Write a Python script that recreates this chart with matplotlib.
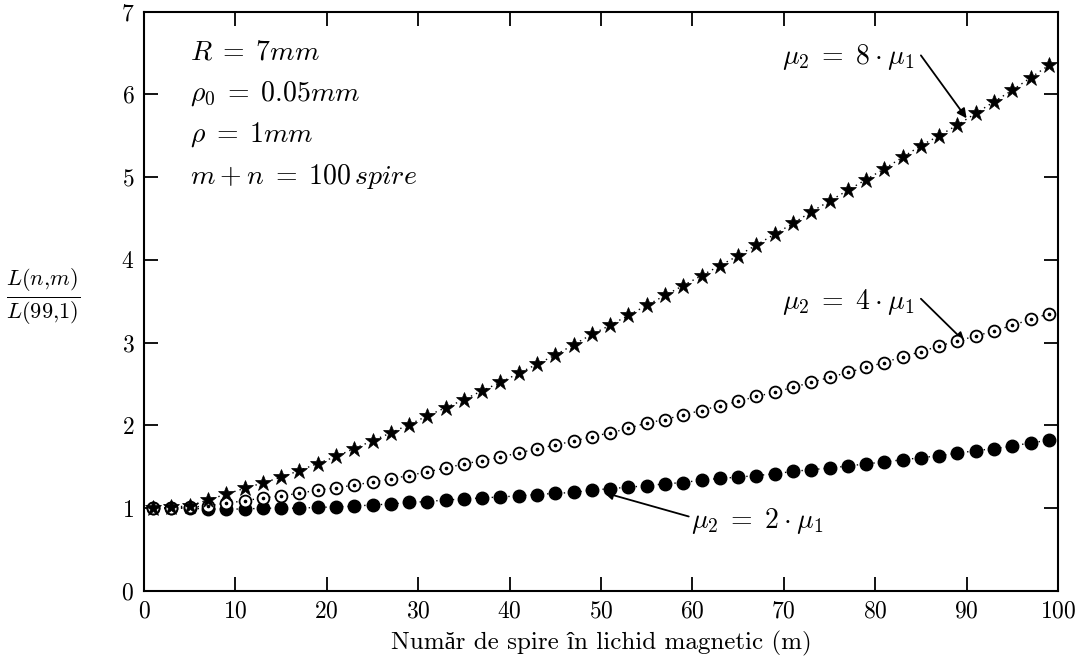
import matplotlib
matplotlib.use("Agg")
import matplotlib.pyplot as plt
import numpy as np

plt.rcParams['mathtext.fontset'] = 'cm'
plt.rcParams['font.family'] = ['cmr10', 'Liberation Serif', 'DejaVu Serif']
plt.rcParams['axes.formatter.use_mathtext'] = True

# number of turns in magnetic liquid (m)
m_turns = list(range(1, 100, 2))

ratio_mu2 = [1.00, 1.00, 1.00, 0.99, 0.99, 0.99, 1.00, 1.00, 1.00, 1.01,
             1.015, 1.025, 1.04, 1.05, 1.07, 1.08, 1.10, 1.11, 1.125, 1.135,
             1.15, 1.165, 1.18, 1.19, 1.22, 1.235, 1.255, 1.27, 1.295, 1.31,
             1.34, 1.36, 1.375, 1.395, 1.415, 1.445, 1.465, 1.485, 1.51, 1.535,
             1.56, 1.585, 1.61, 1.635, 1.665, 1.695, 1.72, 1.75, 1.79, 1.82]

ratio_mu4 = [1.00, 1.00, 1.01, 1.03, 1.06, 1.09, 1.125, 1.15, 1.18, 1.22,
             1.245, 1.28, 1.315, 1.355, 1.395, 1.44, 1.485, 1.535, 1.575, 1.615,
             1.67, 1.715, 1.765, 1.81, 1.865, 1.91, 1.965, 2.03, 2.07, 2.13,
             2.18, 2.24, 2.29, 2.35, 2.40, 2.46, 2.52, 2.58, 2.64, 2.70,
             2.76, 2.83, 2.89, 2.96, 3.02, 3.08, 3.14, 3.21, 3.28, 3.35]

ratio_mu8 = [1.00, 1.01, 1.03, 1.10, 1.17, 1.24, 1.305, 1.375, 1.455, 1.54,
             1.625, 1.72, 1.815, 1.91, 2.01, 2.115, 2.215, 2.31, 2.42, 2.52,
             2.63, 2.74, 2.85, 2.975, 3.10, 3.21, 3.33, 3.45, 3.57, 3.69,
             3.81, 3.93, 4.05, 4.18, 4.31, 4.44, 4.58, 4.71, 4.84, 4.97,
             5.10, 5.24, 5.38, 5.50, 5.63, 5.77, 5.91, 6.05, 6.20, 6.35]

x_ticks = [0, 10, 20, 30, 40, 50, 60, 70, 80, 90, 100]
y_ticks = [0, 1, 2, 3, 4, 5, 6, 7]

params_text = [r'$R\;=\;7mm$', r'$\rho_0\;=\;0.05mm$', r'$\rho\;=\;1mm$',
               r'$m\:+\:n\;=\;100\,spire$']
label_mu8 = r'$\mu_2\;=\;8\:\cdot\:\mu_1$'
label_mu4 = r'$\mu_2\;=\;4\:\cdot\:\mu_1$'
label_mu2 = r'$\mu_2\;=\;2\:\cdot\:\mu_1$'

W, H = 1081, 667
fig = plt.figure(figsize=(W / 100, H / 100), dpi=100)
L, R, T, B = 144, 1058, 11.5, 591
ax = fig.add_axes([L / W, 1 - B / H, (R - L) / W, (B - T) / H])

line_kw = dict(color='black', linestyle=(0, (1, 3)), linewidth=1.0)
ax.plot(m_turns, ratio_mu2, marker='o', markersize=9, markerfacecolor='black',
        markeredgecolor='black', **line_kw, zorder=3)
ax.plot(m_turns, ratio_mu4, marker='o', markersize=8.5, markerfacecolor='white',
        markeredgecolor='black', markeredgewidth=1.3, **line_kw, zorder=4)
ax.plot(m_turns, ratio_mu4, linestyle='none', marker='o', markersize=1.6,
        color='black', zorder=5)
ax.plot(m_turns, ratio_mu8, marker='*', markersize=12, markerfacecolor='black',
        markeredgecolor='black', markeredgewidth=0.5, **line_kw, zorder=6)

ax.set_xlim(0, 100)
ax.set_ylim(0, 7)
ax.set_xticks(x_ticks)
ax.set_yticks(y_ticks)
ax.tick_params(direction='in', length=10, width=1.3, top=True, right=True,
               labelsize=17, pad=7)
for s in ax.spines.values():
    s.set_linewidth(1.5)

ax.set_xlabel('Număr de spire în lichid magnetic (m)', fontsize=18, labelpad=6)
fig.text(43 / W, 1 - 296 / H, r'$\frac{L(n{,}m)}{L(99{,}1)}$', fontsize=23,
         ha='center', va='center')

for i, t in enumerate(params_text):
    ax.text(5.0, 6.51 - i * 0.5, t, fontsize=20, ha='left', va='center')

ax.text(69.8, 6.45, label_mu8, fontsize=20, ha='left', va='center')
ax.annotate('', xy=(90.0, 5.71), xytext=(85.0, 6.47),
            arrowprops=dict(arrowstyle='-|>', color='black', lw=1.3,
                            shrinkA=0, shrinkB=0, mutation_scale=14))
ax.text(69.8, 3.49, label_mu4, fontsize=20, ha='left', va='center')
ax.annotate('', xy=(89.8, 3.01), xytext=(85.0, 3.53),
            arrowprops=dict(arrowstyle='-|>', color='black', lw=1.3,
                            shrinkA=0, shrinkB=0, mutation_scale=14))
ax.text(59.8, 0.85, label_mu2, fontsize=20, ha='left', va='center')
ax.annotate('', xy=(50.3, 1.19), xytext=(59.6, 0.9),
            arrowprops=dict(arrowstyle='-|>', color='black', lw=1.3,
                            shrinkA=0, shrinkB=0, mutation_scale=14))

fig.savefig('out.png', dpi=100)
